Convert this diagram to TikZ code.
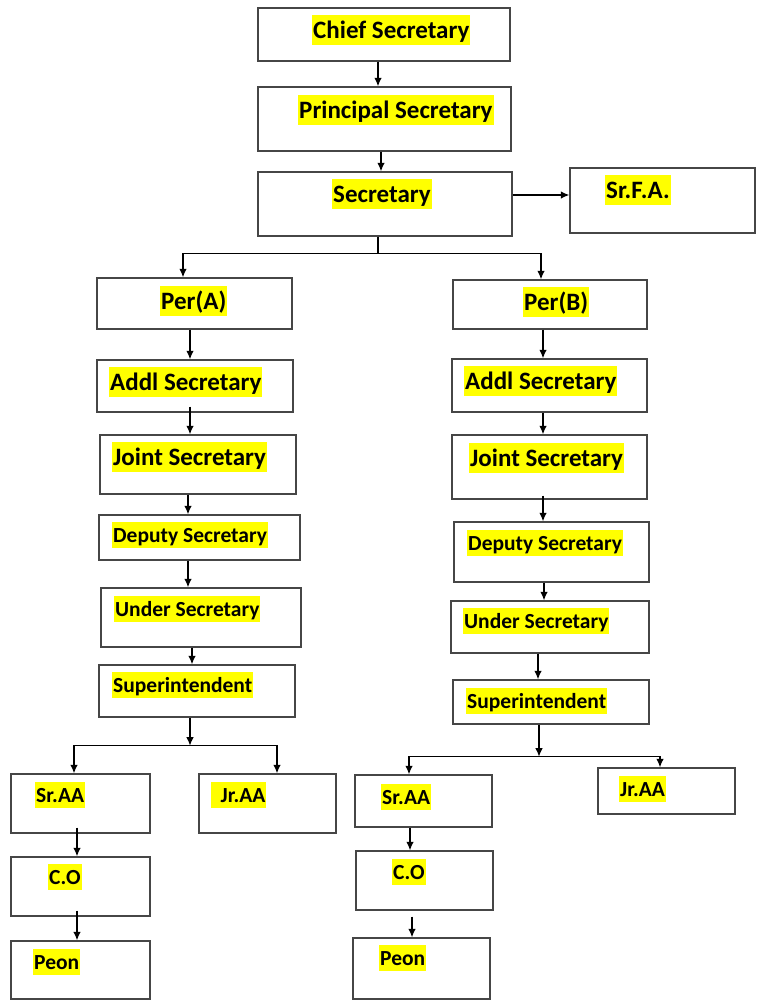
\documentclass[tikz,border=0pt]{standalone}
\usepackage{fontspec}
\setmainfont{Carlito}
\usepackage{tikz}
\usetikzlibrary{arrows.meta, positioning, calc}
\definecolor{hilite}{RGB}{255,255,0}
\definecolor{boxgray}{RGB}{70,70,70}

\begin{document}
\begin{tikzpicture}[x=1pt, y=-1pt,
  post/.style={draw=boxgray, line width=1.3, rectangle, inner sep=0pt},
  lblL/.style={fill=hilite, anchor=west, inner xsep=1pt, inner ysep=0pt,
    text height=23.5pt, text depth=6.5pt, font=\fontsize{25}{29}\selectfont\bfseries},
  lblS/.style={lblL, text height=20.5pt, text depth=5.8pt,
    font=\fontsize{21.5}{26}\selectfont\bfseries},
  arr/.style={-{Latex[length=8.5, width=7.5]}, line width=1.3, black}]
\useasboundingbox (0,0) rectangle (756,1001);

% Top of the chart
\node[post, minimum width=252, minimum height=53] (cs) at (384,34.5) {};
\node[lblL] (csT) at (312,30) {Chief Secretary};
\node[post, minimum width=253, minimum height=64] (ps) at (384.5,119) {};
\node[lblL] (psT) at (298,109.5) {Principal Secretary};
\node[post, minimum width=254, minimum height=64] (sec) at (385,204) {};
\node[lblL] (secT) at (332,194) {Secretary};
\node[post, minimum width=185, minimum height=65] (srfa) at (662.5,200.5) {};
\node[lblL] (srfaT) at (605,190) {Sr.F.A.};

\draw[arr] ([xshift=-6]cs.south) -- ([xshift=-6]cs.south |- ps.north);
\draw[arr] ([xshift=-3.5]ps.south) -- ([xshift=-3.5]ps.south |- sec.north);
\draw[arr] ([yshift=9]sec.east) -- ([yshift=9]sec.east -| srfa.west);

% Branch A
\node[post, minimum width=195, minimum height=51] (perA) at (194.5,303.5) {};
\node[lblL] (perAT) at (160,301) {Per(A)};
\node[post, minimum width=196, minimum height=52] (addA) at (195,386) {};
\node[lblL] (addAT) at (109,382) {Addl Secretary};
\node[post, minimum width=196, minimum height=59] (jsA) at (198,464.5) {};
\node[lblL] (jsAT) at (112,457) {Joint Secretary};
\node[post, minimum width=201, minimum height=45] (dsA) at (199.5,537.5) {};
\node[lblS] (dsAT) at (112,535) {Deputy Secretary};
\node[post, minimum width=200, minimum height=59] (usA) at (201,617.5) {};
\node[lblS] (usAT) at (114,609) {Under Secretary};
\node[post, minimum width=196, minimum height=52] (supA) at (197,691) {};
\node[lblS] (supAT) at (112,685) {Superintendent};
\node[post, minimum width=139, minimum height=59] (srA) at (80.5,803.5) {};
\node[lblS] (srAT) at (35,795) {Sr.AA};
\node[post, minimum width=137, minimum height=59] (jrA) at (267.5,803.5) {};
\node[lblS] (jrAT) at (211,795) {~\,Jr.AA};
\node[post, minimum width=139, minimum height=59] (coA) at (80.5,886.5) {};
\node[lblS] (coAT) at (48,877) {C.O};
\node[post, minimum width=139, minimum height=58] (peA) at (80.5,970) {};
\node[lblS] (peAT) at (33,962) {Peon};

% Branch B
\node[post, minimum width=194, minimum height=49] (perB) at (550,304.5) {};
\node[lblL] (perBT) at (523,302) {Per(B)};
\node[post, minimum width=195, minimum height=53] (addB) at (549.5,385.5) {};
\node[lblL] (addBT) at (464,381) {Addl Secretary};
\node[post, minimum width=195, minimum height=64] (jsB) at (549.5,467) {};
\node[lblL] (jsBT) at (469,458) {Joint Secretary};
\node[post, minimum width=195, minimum height=60] (dsB) at (551.5,552) {};
\node[lblS] (dsBT) at (467,543) {Deputy Secretary};
\node[post, minimum width=198, minimum height=52] (usB) at (550,627) {};
\node[lblS] (usBT) at (463,621) {Under Secretary};
\node[post, minimum width=196, minimum height=44] (supB) at (551,702) {};
\node[lblS] (supBT) at (466,701) {Superintendent};
\node[post, minimum width=137, minimum height=52] (srB) at (423.5,801) {};
\node[lblS] (srBT) at (381,797) {Sr.AA};
\node[post, minimum width=137, minimum height=46] (jrB) at (666.5,791) {};
\node[lblS] (jrBT) at (619,789) {Jr.AA};
\node[post, minimum width=137, minimum height=59] (coB) at (424.5,880.5) {};
\node[lblS] (coBT) at (392,872) {C.O};
\node[post, minimum width=137, minimum height=61] (peB) at (421.5,968.5) {};
\node[lblS] (peBT) at (379,958) {Peon};

% Secretary splits into the two branches
\draw[line width=1.3] ([xshift=-7]sec.south) -- ++(0,17) coordinate (busS);
\draw[arr] (busS) -| ([xshift=-11.5]perA.north);
\draw[arr] (busS) -| ([xshift=-9]perB.north);

% Chain A
\draw[arr] ([xshift=-4.5]perA.south) -- ([xshift=-4.5]perA.south |- addA.north);
\draw[arr] ([xshift=-5]addA.south) ++(0,-6) -- ([xshift=-5]addA.south |- jsA.north);
\draw[arr] ([xshift=-10]jsA.south) -- ([xshift=-10]jsA.south |- dsA.north);
\draw[arr] ([xshift=-11.5]dsA.south) -- ([xshift=-11.5]dsA.south |- usA.north);
\draw[arr] ([xshift=-9]usA.south) -- ([xshift=-9]usA.south |- supA.north);
\draw[arr] ([xshift=-7]supA.south) -- ++(0,28) coordinate (busA);
\draw[arr] (busA) -| ([xshift=-6.5]srA.north);
\draw[arr] (busA) -| ([xshift=9.5]jrA.north);
\draw[arr] ([xshift=-3.5]srA.south) ++(0,-6) -- ([xshift=-3.5]srA.south |- coA.north);
\draw[arr] ([xshift=-3.5]coA.south) ++(0,-6) -- ([xshift=-3.5]coA.south |- peA.north);

% Chain B
\draw[arr] ([xshift=-7]perB.south) -- ([xshift=-7]perB.south |- addB.north);
\draw[arr] ([xshift=-6.5]addB.south) -- ([xshift=-6.5]addB.south |- jsB.north);
\draw[arr] ([xshift=-6.5]jsB.south) ++(0,-4) -- ([xshift=-6.5]jsB.south |- dsB.north);
\draw[arr] ([xshift=-7.5]dsB.south) -- ([xshift=-7.5]dsB.south |- usB.north);
\draw[arr] ([xshift=-12]usB.south) -- ([xshift=-12]usB.south |- supB.north);
\draw[arr] ([xshift=-12]supB.south) -- ++(0,32) coordinate (busB);
\draw[arr] (busB) -| ([xshift=-14.5]srB.north);
\draw[arr] (busB) -| ([xshift=-6.5]jrB.north);
\draw[arr] ([xshift=-13.5]srB.south) -- ([xshift=-13.5]srB.south |- coB.north);
\draw[arr] ([xshift=-12.5]coB.south) ++(0,6) -- ([xshift=-12.5]coB.south |- peB.north);
\end{tikzpicture}
\end{document}
